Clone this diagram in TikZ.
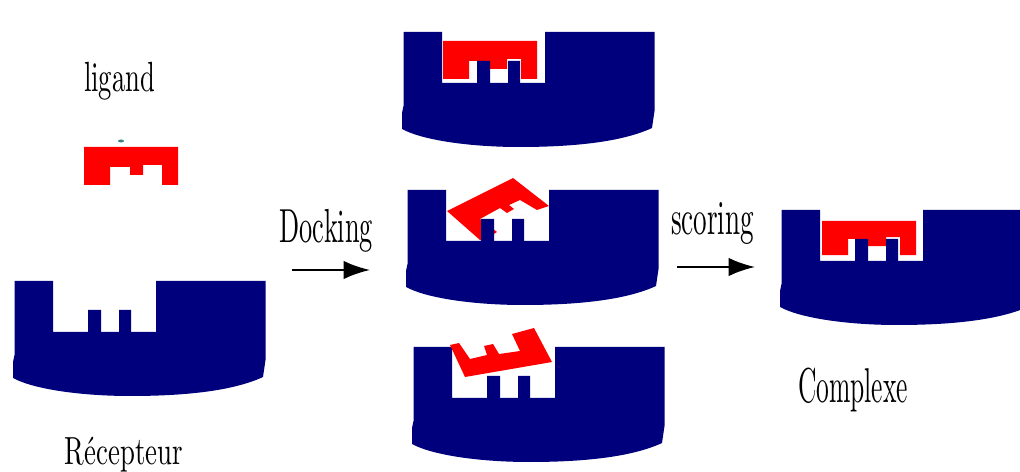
\documentclass[tikz,border=0pt]{standalone}
\usetikzlibrary{arrows.meta}
\definecolor{basenavy}{RGB}{0,0,125}
\definecolor{ligandred}{RGB}{255,0,0}
\definecolor{specdot}{RGB}{60,130,130}
\newdimen\pxu \pxu=0.02cm
% Text box forced to a given width and total height, in drawing units
\newcommand{\fitlabel}[3]{\resizebox*{#1\pxu}{#2\pxu}{#3}}
\tikzset{
  base/.style={fill=basenavy,draw=none},
  bound/.style={fill=ligandred,draw=none},
  caption/.style={inner sep=0pt,outer sep=0pt,text=black},
  flow/.style={draw=black,line width=1.3pt,-{Latex[length=15pt,width=10.5pt]}},
}
% Receptor block with its pocket; the pocket's two teeth are drawn separately
\newcommand{\recbody}[2]{%
  \fill[base,shift={(#1,#2)}] (14.5,281) -- (53,281) -- (53,332) -- (156,332) -- (156,281)
    -- (265.5,281) -- (265.5,360) -- (263,377)
    .. controls (235,390) and (190,396) .. (130,396)
    .. controls (85,396) and (35,390) .. (13,378) -- (13,362) -- (14.5,355) -- cycle;}
\newcommand{\recteeth}[2]{%
  \fill[base,shift={(#1,#2)}] (88,310) rectangle (101,333) (119,310) rectangle (131,333);}
% Ligand outline; the argument is the right edge of its central tooth
\newcommand{\ligandshape}[1]{(0,0) -- (94,0) -- (94,38) -- (78,38) -- (78,18) -- (#1,18)
  -- (#1,28) -- (46,28) -- (46,20) -- (26,20) -- (26,38) -- (0,38) -- cycle}
\begin{document}
\begin{tikzpicture}[x=0.02cm,y=-0.02cm]
\useasboundingbox (0,0) rectangle (1020,472);
\clip (0,0) rectangle (1020,472);

% Free ligand
\fill[bound,shift={(84,147)}] \ligandshape{59};
\fill[specdot] (121,141) ellipse (3 and 1.5);

% Free receptor
\recbody{0}{0}
\recteeth{0}{0}

% Pose 1: seated flat
\recbody{389}{-249}
\fill[bound,shift={(443,41)}] \ligandshape{64};
\recteeth{389}{-249}

% Pose 2: tilted up to the right
\recbody{393}{-91}
\fill[bound] (447,211) -- (513,178) -- (549,206) -- (537,210) -- (520,200) -- (509,205)
  -- (514,209) -- (507,213) -- (500,208) -- (480,219) -- (497,232) -- (482,241) -- (480,240) -- cycle;
\recteeth{393}{-91}

% Pose 3: flipped over the pocket
\recbody{399}{66}
\fill[bound] (450,345) -- (459,343) -- (470,359) -- (487,355) -- (484,346) -- (493,344)
  -- (499,354) -- (520,351) -- (512,334) -- (534,328) -- (552,362) -- (465,377) -- cycle;
\recteeth{399}{66}

% Final complex
\recbody{767}{-71}
\fill[bound,shift={(822,221)},yscale=0.9] \ligandshape{64};
\recteeth{767}{-71}

% Labels
\node[caption] (ligandlabel) at (119.5,81) {\fitlabel{71}{38}{ligand}};
\node[caption] (receptorlabel) at (124,454.5) {\fitlabel{118}{35}{Récepteur}};
\node[caption] (dockinglabel) at (326,230.5) {\fitlabel{94}{43}{Docking}};
\node[caption] (scoringlabel) at (712.5,224) {\fitlabel{83}{42}{scoring}};
\node[caption] (complexlabel) at (853,390) {\fitlabel{110}{44}{Complexe}};

% Process arrows
\coordinate (dockfrom) at (292,270);
\coordinate (dockto) at (370,270);
\coordinate (scorefrom) at (677,267);
\coordinate (scoreto) at (755,267);
\draw[flow] (dockfrom) -- (dockto);
\draw[flow] (scorefrom) -- (scoreto);
\end{tikzpicture}
\end{document}
